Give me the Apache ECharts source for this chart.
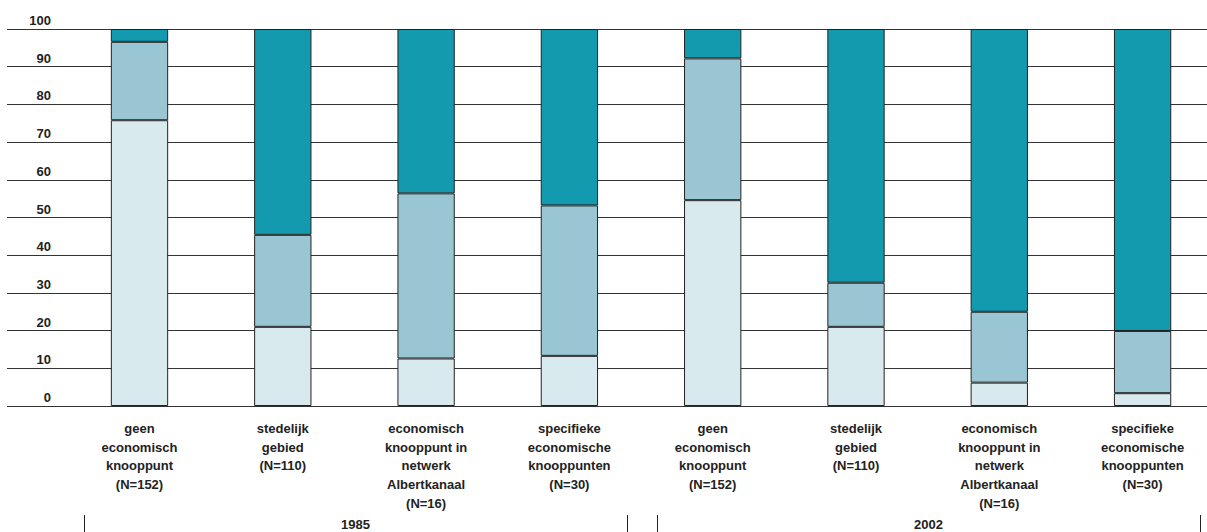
<!DOCTYPE html>
<html>
<head>
<meta charset="utf-8">
<script src="https://cdn.jsdelivr.net/npm/echarts@6/dist/echarts.min.js"></script>
<style>
html,body{margin:0;padding:0;background:#fff;}
#chart{width:1207px;height:532px;}
</style>
</head>
<body>
<div id="chart"></div>
<script>
// ---- data ----
const categories = [
  'geen\neconomisch\nknooppunt\n(N=152)',
  'stedelijk\ngebied\n(N=110)',
  'economisch\nknooppunt in\nnetwerk\nAlbertkanaal\n(N=16)',
  'specifieke\neconomische\nknooppunten\n(N=30)',
  'geen\neconomisch\nknooppunt\n(N=152)',
  'stedelijk\ngebied\n(N=110)',
  'economisch\nknooppunt in\nnetwerk\nAlbertkanaal\n(N=16)',
  'specifieke\neconomische\nknooppunten\n(N=30)'
];
const periods = ['1985', '2002'];
const lightValues = [75.8, 21.0, 12.6, 13.3, 54.6, 21.0, 6.2, 3.4];
const midValues   = [20.8, 24.4, 43.8, 39.9, 37.6, 11.7, 18.8, 16.5];
const darkValues  = [3.4, 54.6, 43.6, 46.8, 7.8, 67.3, 75.0, 80.1];
const yTicks = [0, 10, 20, 30, 40, 50, 60, 70, 80, 90, 100];

// ---- chart ----
const chart = echarts.init(document.getElementById('chart'), null, {renderer: 'svg'});
const font = '"Liberation Sans", Arial, sans-serif';
const border = {borderColor: '#222', borderWidth: 1};
const plotTop = 29, plotH = 377;

chart.setOption({
  animation: false,
  backgroundColor: '#fff',
  grid: [
    {left: 7, width: 1200, top: plotTop, height: plotH, outerBoundsMode: 'none', containLabel: false},
    {left: 67.85, width: 1146.4, top: plotTop, height: plotH, outerBoundsMode: 'none', containLabel: false},
    {left: 84, width: 543, top: 500, height: 15, outerBoundsMode: 'none', containLabel: false},
    {left: 657, width: 543, top: 500, height: 15, outerBoundsMode: 'none', containLabel: false}
  ],
  xAxis: [
    {gridIndex: 0, type: 'value', show: false, min: 0, max: 1},
    {gridIndex: 1, type: 'category', data: categories,
      axisLine: {show: false}, axisTick: {show: false},
      axisLabel: {interval: 0, margin: 13, color: '#222', fontFamily: font,
        fontWeight: 'bold', fontSize: 13, lineHeight: 18.7, align: 'center'}},
    {gridIndex: 2, type: 'category', data: [periods[0]], boundaryGap: true,
      axisLine: {show: false},
      axisTick: {show: true, length: 17, lineStyle: {color: '#222', width: 1}},
      axisLabel: {margin: 3, lineHeight: 13, color: '#222', fontFamily: font, fontWeight: 'bold', fontSize: 13}},
    {gridIndex: 3, type: 'category', data: [periods[1]], boundaryGap: true,
      axisLine: {show: false},
      axisTick: {show: true, length: 17, lineStyle: {color: '#222', width: 1}},
      axisLabel: {margin: 3, lineHeight: 13, color: '#222', fontFamily: font, fontWeight: 'bold', fontSize: 13}}
  ],
  yAxis: [
    {gridIndex: 0, type: 'value', min: yTicks[0], max: yTicks[yTicks.length - 1], interval: 10,
      axisLine: {show: false}, axisTick: {show: false},
      splitLine: {show: true, lineStyle: {color: '#333', width: 1}},
      axisLabel: {inside: true, margin: 44, align: 'right', verticalAlign: 'bottom',
        padding: [0, 0, 2, 0], color: '#222', fontFamily: font,
        fontWeight: 'bold', fontSize: 13}},
    {gridIndex: 1, type: 'value', min: 0, max: 100, show: false},
    {gridIndex: 2, type: 'value', show: false},
    {gridIndex: 3, type: 'value', show: false}
  ],
  series: [
    {type: 'bar', xAxisIndex: 1, yAxisIndex: 1, stack: 's', barWidth: '40%',
      data: lightValues, itemStyle: Object.assign({color: '#d9eaef'}, border)},
    {type: 'bar', xAxisIndex: 1, yAxisIndex: 1, stack: 's', barWidth: '40%',
      data: midValues, itemStyle: Object.assign({color: '#99c6d2'}, border)},
    {type: 'bar', xAxisIndex: 1, yAxisIndex: 1, stack: 's', barWidth: '40%',
      data: darkValues, itemStyle: Object.assign({color: '#139aae'}, border)}
  ]
});
</script>
</body>
</html>
